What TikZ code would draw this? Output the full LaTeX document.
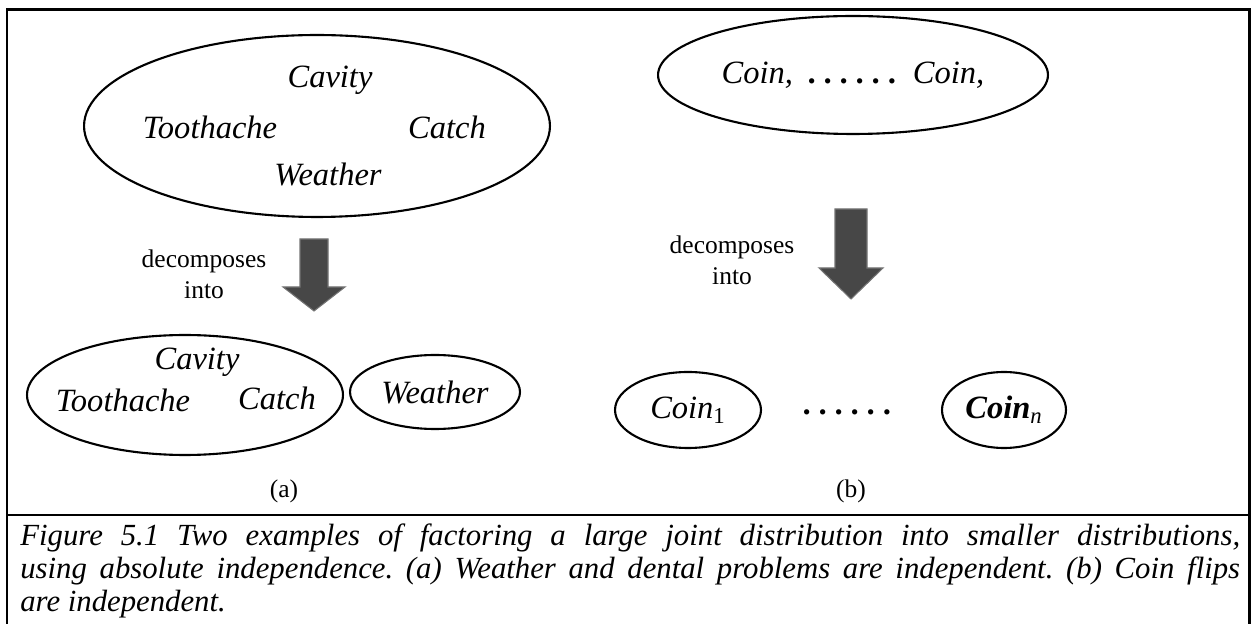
\documentclass[tikz,border=0pt]{standalone}
\usepackage{fontspec}
\setmainfont{Liberation Serif}
\usetikzlibrary{shapes.geometric,positioning}
\tikzset{blob/.style={draw,ellipse,line width=1.2pt,inner sep=0pt},
  var/.style={font=\fontsize{18.5}{20}\selectfont\itshape,inner sep=0pt},
  lbl/.style={font=\fontsize{14.5}{17.5}\selectfont,align=center,inner sep=0pt},
  bigarrow/.style={fill=black!72,draw=black!55,line width=0.6pt},
  frame/.style={line width=1.7pt}}
\newcommand\dotrun{\textbf{.\hspace{4.5pt}.\hspace{4.5pt}.\hspace{4.5pt}.\hspace{4.5pt}.\hspace{4.5pt}.}}
\newcommand\lowidx[1]{\textsubscript{#1}}
\frenchspacing

\begin{document}
\begin{tikzpicture}[x=0.02cm,y=-0.02cm]
\useasboundingbox (0,0) rectangle (1251,624);
\draw[frame] (7,624) -- (7,10) -- (1249,10) -- (1249,624);
\draw[frame] (7,515) -- (1249,515);
% (a)
\node[blob,minimum width=9.32cm,minimum height=3.64cm] (joint) at (317,126) {};
\node[var] (cav) at (330,80) {Cavity};
\node[var] (tooth) at (210,127) {Toothache};
\node[var] (catch) at (447,127) {Catch};
\node[var] (wea) at (328,174) {Weather};
\coordinate (downA) at (314,239);
\fill[bigarrow] (downA) ++(-14,0) -- ++(28,0) -- ++(0,48) -- ++(17,0) -- ++(-31,24) -- ++(-31,-24) -- ++(17,0) -- cycle;
\node[lbl] (decA) at (204,274) {decomposes\\into};
\node[blob,minimum width=6.32cm,minimum height=2.4cm] (dental) at (185,395) {};
\node[var] (cav2) at (197,362) {Cavity};
\node[var] (tooth2) at (123,400) {Toothache};
\node[var] (catch2) at (277,398) {Catch};
\node[blob,minimum width=3.4cm,minimum height=1.48cm] (weather) at (435,392) {};
\node[var] (wea2) at (weather) {Weather};
\node[lbl] (capA) at (284,491) {(a)};
% (b)
\node[blob,minimum width=7.8cm,minimum height=2.36cm] (coins) at (853,75) {};
\node[var] (allcoins) at (coins) {Coin,\hspace{9pt}\dotrun\hspace{9pt}Coin,};
\coordinate (downB) at (851,209);
\fill[bigarrow] (downB) ++(-16,0) -- ++(32,0) -- ++(0,59) -- ++(16,0) -- ++(-32,31) -- ++(-32,-31) -- ++(16,0) -- cycle;
\node[lbl] (decB) at (732,260) {decomposes\\into};
\node[blob,minimum width=2.92cm,minimum height=1.52cm] (coinA) at (688,410) {};
\node[var] (c1) at (coinA) {Coin\lowidx{\upshape 1}};
\node[var] (gap) at (848,412) {\dotrun};
\node[blob,minimum width=2.48cm,minimum height=1.52cm] (coinN) at (1004,410) {};
\node[var] (cn) at (coinN) {\textbf{Coin}\lowidx{n}};
\node[lbl] (capB) at (851,491) {(b)};
\node[anchor=north west,text width=24.4cm,align=justify,inner sep=0pt,
  font=\fontsize{17.5}{18.6}\selectfont\itshape] (caption) at (20,524)
  {Figure 5.1 Two examples of factoring a large joint distribution into smaller distributions,\linebreak
  using absolute independence. (a) Weather and dental problems are independent. (b) Coin flips\linebreak
  are independent.};
\end{tikzpicture}
\end{document}
